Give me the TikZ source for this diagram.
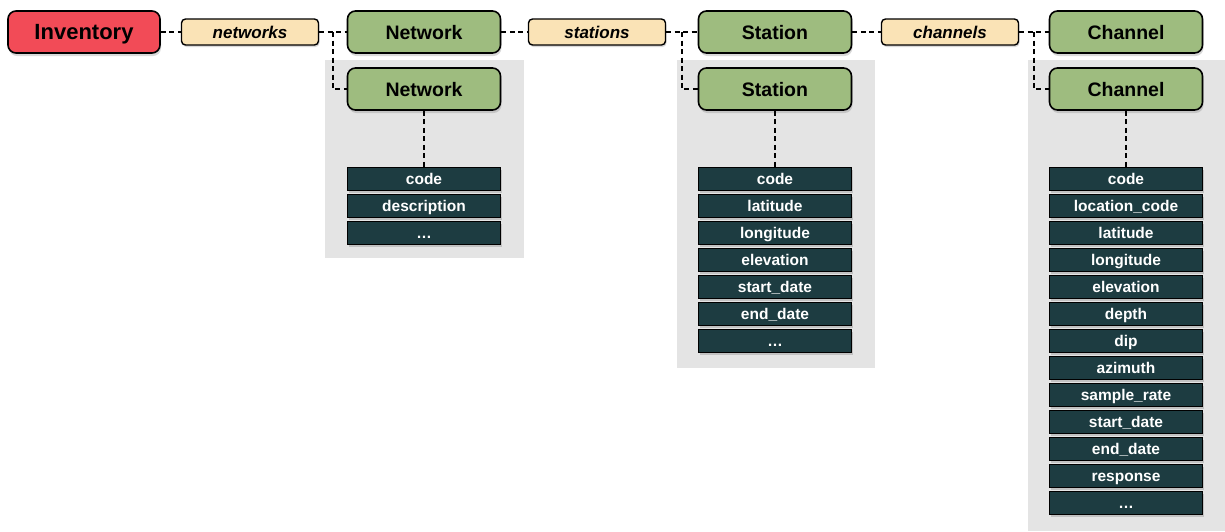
\documentclass[tikz,border=0pt]{standalone}
\usepackage{fontspec}
\setmainfont{Liberation Sans}
\usetikzlibrary{calc,shadows}
\definecolor{invred}{HTML}{F24B57}
\definecolor{objgreen}{HTML}{9EBC7F}
\definecolor{lbltan}{HTML}{FAE3B6}
\definecolor{fielddark}{HTML}{1D3C41}
\definecolor{groupgray}{HTML}{E4E4E4}
\tikzset{
    box/.style={draw=black, line width=1.6pt, rounded corners=8pt, minimum width=153pt,
        minimum height=42pt, inner sep=0pt, text height=14pt, text depth=0pt,
        font=\bfseries\fontsize{19.5}{22}\selectfont,
        drop shadow={opacity=0.3, shadow xshift=1pt, shadow yshift=-3pt}},
    lbl/.style={draw=black, line width=1.4pt, rounded corners=4pt, fill=lbltan, minimum width=137pt,
        minimum height=26pt, inner sep=0pt, text height=12pt, text depth=0pt,
        font=\bfseries\itshape\fontsize{17}{19}\selectfont,
        drop shadow={opacity=0.3, shadow xshift=1pt, shadow yshift=-2pt}},
    field/.style={draw=black, line width=1.5pt, fill=fielddark, text=white, minimum width=153pt,
        minimum height=23pt, inner sep=0pt, text height=11pt, text depth=0pt,
        font=\bfseries\fontsize{15.5}{17}\selectfont,
        drop shadow={opacity=0.35, shadow xshift=1pt, shadow yshift=-2.5pt}},
    link/.style={line width=1.6pt, dash pattern=on 5pt off 3.5pt},
    group/.style={fill=groupgray, draw=none}
}
\begin{document}
\begin{tikzpicture}[x=1pt, y=-1pt]
        \useasboundingbox (0,0) rectangle (1225,531);
        % grey groups
        \fill[group] (325,60) rectangle (524,258);
        \fill[group] (677,60) rectangle (875,368);
        \fill[group] (1028,60) rectangle (1225,531);
        %
        \node[box, fill=invred, minimum width=152pt, text height=15.5pt,
            font=\bfseries\fontsize{22}{25}\selectfont] (inv) at (84,32) {Inventory};
        \node[lbl] (lblnet) at (250,32) {networks};
        \node[box, fill=objgreen] (net) at (424,32) {Network};
        \node[box, fill=objgreen] (netb) at (424,89) {Network};
        \node[lbl] (lblsta) at (597,32) {stations};
        \node[box, fill=objgreen] (sta) at (775,32) {Station};
        \node[box, fill=objgreen] (stab) at (775,89) {Station};
        \node[lbl] (lblcha) at (950,32) {channels};
        \node[box, fill=objgreen] (cha) at (1126,32) {Channel};
        \node[box, fill=objgreen] (chab) at (1126,89) {Channel};
        %
        \foreach \f [count=\i] in {code, description, \ldots}
            \node[field] (netf\i) at (424,{152+27*\i}) {\f};
        \foreach \f [count=\i] in {code, latitude, longitude, elevation, start\_date, end\_date, \ldots}
            \node[field] (staf\i) at (775,{152+27*\i}) {\f};
        \foreach \f [count=\i] in {code, location\_code, latitude, longitude, elevation, depth, dip,
                azimuth, sample\_rate, start\_date, end\_date, response, \ldots}
            \node[field] (chaf\i) at (1126,{152+27*\i}) {\f};
        %
        \coordinate (brnet) at ($(lblnet.east)!.5!(net.west)$);
        \coordinate (brsta) at ($(lblsta.east)!.5!(sta.west)$);
        \coordinate (brcha) at ($(lblcha.east)!.5!(cha.west)$);
        %
        \draw[link] (inv) -- (lblnet);
        \draw[link] (lblnet) -- (net);
        \draw[link] (brnet) |- (netb.west);
        \draw[link] (netb) -- (netf1);
        \draw[link] (net) -- (lblsta);
        \draw[link] (lblsta) -- (sta);
        \draw[link] (brsta) |- (stab.west);
        \draw[link] (stab) -- (staf1);
        \draw[link] (sta) -- (lblcha);
        \draw[link] (lblcha) -- (cha);
        \draw[link] (brcha) |- (chab.west);
        \draw[link] (chab) -- (chaf1);
    \end{tikzpicture}
\end{document}
